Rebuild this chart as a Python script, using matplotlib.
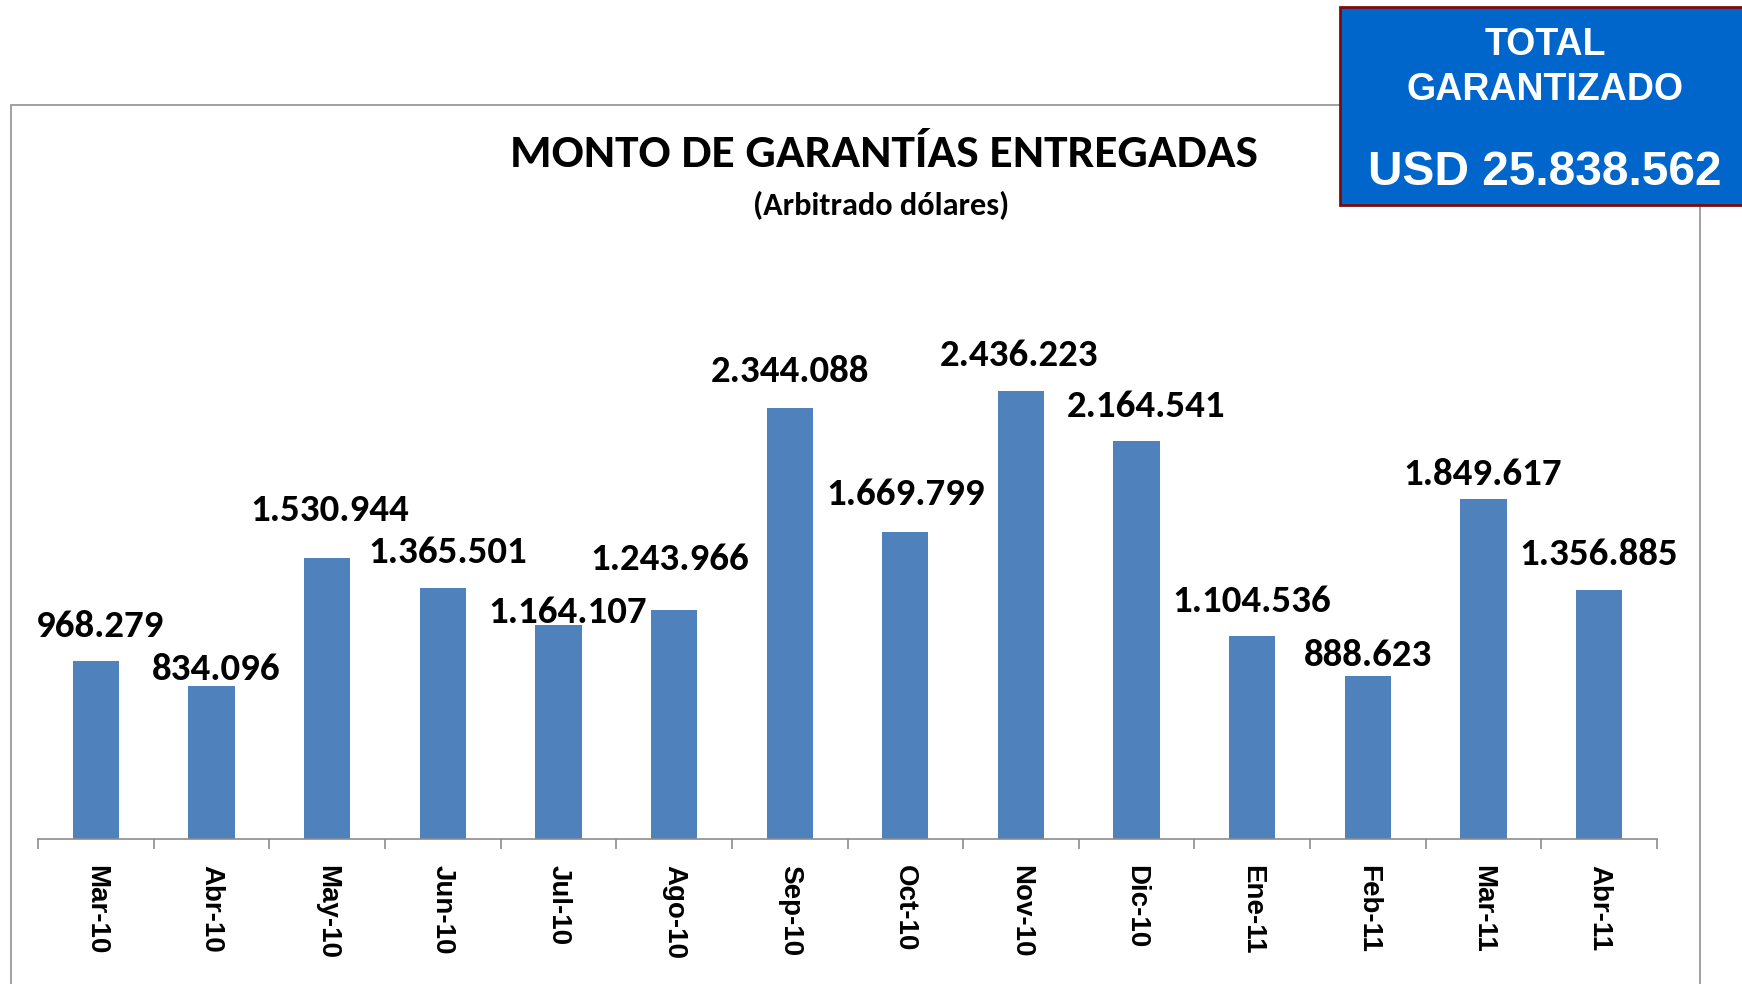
import matplotlib
matplotlib.use('Agg')
import matplotlib.pyplot as plt
from matplotlib.patches import Rectangle
import numpy as np

meses = ['Mar-10', 'Abr-10', 'May-10', 'Jun-10', 'Jul-10', 'Ago-10', 'Sep-10',
         'Oct-10', 'Nov-10', 'Dic-10', 'Ene-11', 'Feb-11', 'Mar-11', 'Abr-11']
montos = [968279, 834096, 1530944, 1365501, 1164107, 1243966, 2344088,
          1669799, 2436223, 2164541, 1104536, 888623, 1849617, 1356885]
total_txt = 'USD 25.838.562'

# hand nudges of the data labels in the original (pixels)
lbl_dx = [4, 5, 3, 5, 9, -4, 0, 0, -2, 9, -1, 0, -1, 0]
lbl_dy = [37.5, 18.5, 50, 38, 15.5, 53.5, 39, 40, 38, 37, 37.5, 23, 27, 38]

W, H = 1742, 984
PX = 72 / 100  # points per pixel
fig = plt.figure(figsize=(W / 100, H / 100), dpi=100)

# outer chart frame (runs off the bottom of the picture)
fig.add_artist(Rectangle((11 / W, -0.1), (1700 - 11) / W, 0.1 + 1 - 105 / H,
                         transform=fig.transFigure, fill=False,
                         edgecolor='#9a9a9a', lw=1.3))

ax = fig.add_axes([38 / W, (H - 839) / H, 1619 / W, 588 / H])
x = np.arange(len(meses))
ax.bar(x, montos, width=0.40, color='#4F81BD', zorder=2)
ax.set_xlim(-0.5, len(meses) - 0.5)
ax.set_ylim(0, 3200000)

for xi, v, dx, dy in zip(x, montos, lbl_dx, lbl_dy):
    lbl = f'{v:,}'.replace(',', '.')
    ax.annotate(lbl, (xi, v), xytext=(dx * PX, (dy - 13) * PX),
                textcoords='offset points', ha='center', va='baseline',
                fontsize=28, fontweight='bold', family='Carlito',
                color='black')

for s in ['top', 'left', 'right']:
    ax.spines[s].set_visible(False)
ax.spines['bottom'].set_color('#8c8c8c')
ax.spines['bottom'].set_linewidth(1.2)
ax.set_yticks([])
ax.set_xticks(x)
ax.set_xticklabels(meses, rotation=270, fontsize=20, fontweight='bold',
                   family='Liberation Sans', va='top', ha='center')
ax.tick_params(axis='x', which='major', length=0, pad=18.7)
ax.set_xticks(np.arange(-0.5, len(meses), 1), minor=True)
ax.tick_params(axis='x', which='minor', length=7.5, width=1.2,
               color='#8c8c8c', direction='out')

fig.text(884 / W, 1 - 167 / H, 'MONTO DE GARANTÍAS ENTREGADAS', ha='center',
         va='baseline', fontsize=34.2, fontweight='bold', family='Carlito')
fig.text(881 / W, 1 - 215 / H, '(Arbitrado dólares)', ha='center',
         va='baseline', fontsize=23.2, fontweight='bold', family='Carlito')

# total box top right
fig.add_artist(Rectangle((1340 / W, 1 - 205 / H), 0.3, (205 - 7) / H,
                         transform=fig.transFigure, facecolor='#0066CC',
                         edgecolor='#7B0C0C', lw=2, zorder=5))
fig.text(1545 / W, 1 - 55 / H, 'TOTAL', ha='center', va='baseline', fontsize=27,
         fontweight='bold', family='Liberation Sans', color='white', zorder=6)
fig.text(1545 / W, 1 - 100 / H, 'GARANTIZADO', ha='center', va='baseline',
         fontsize=27, fontweight='bold', family='Liberation Sans',
         color='white', zorder=6)
fig.text(1545 / W, 1 - 185 / H, total_txt, ha='center', va='baseline',
         fontsize=34.5, fontweight='bold', family='Liberation Sans',
         color='white', zorder=6)

fig.savefig('out.png', dpi=100, facecolor='white')
